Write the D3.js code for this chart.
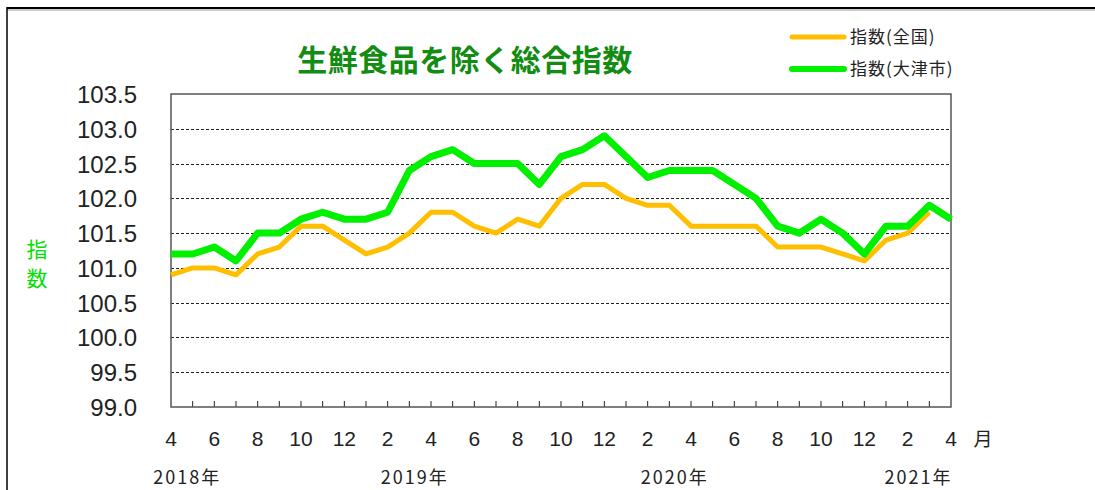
<!DOCTYPE html>
<html>
<head>
<meta charset="utf-8">
<script src="https://cdn.jsdelivr.net/npm/d3@7/dist/d3.min.js"></script>
<style>
  body { margin: 0; background: #fff; }
  svg { display: block; }
</style>
</head>
<body>
<svg id="chart"></svg>
<script>
// data, Apr 2018 .. Apr 2021 (monthly)
var monthTicks = ["4", "6", "8", "10", "12", "2", "4", "6", "8", "10", "12", "2", "4", "6", "8", "10", "12", "2", "4"];
var yearLabels = ["2018年", "2019年", "2020年", "2021年"];
var yTicks = [99.0, 99.5, 100.0, 100.5, 101.0, 101.5, 102.0, 102.5, 103.0, 103.5];

var national = [100.9, 101.0, 101.0, 100.9, 101.2, 101.3, 101.6, 101.6, 101.4, 101.2, 101.3, 101.5,
                101.8, 101.8, 101.6, 101.5, 101.7, 101.6, 102.0, 102.2, 102.2, 102.0, 101.9, 101.9,
                101.6, 101.6, 101.6, 101.6, 101.3, 101.3, 101.3, 101.2, 101.1, 101.4, 101.5, 101.8];
var otsu = [101.2, 101.2, 101.3, 101.1, 101.5, 101.5, 101.7, 101.8, 101.7, 101.7, 101.8, 102.4,
            102.6, 102.7, 102.5, 102.5, 102.5, 102.2, 102.6, 102.7, 102.9, 102.6, 102.3, 102.4,
            102.4, 102.4, 102.2, 102.0, 101.6, 101.5, 101.7, 101.5, 101.2, 101.6, 101.6, 101.9, 101.7];

var W = 1095, H = 490;
var PLOT = {left: 171, right: 951, top: 94, bottom: 407};
var NUM_FONT = "'Liberation Sans', Arial, sans-serif";
var JP_FONT = "'Noto Sans CJK JP', sans-serif";

var svg = d3.select("#chart").attr("width", W).attr("height", H);

var x = d3.scaleLinear().domain([0, 36]).range([PLOT.left, PLOT.right]);
var y = d3.scaleLinear().domain([99, 103.5]).range([PLOT.bottom, PLOT.top]);

// outer frame (top and left only visible)
svg.append("line").attr("x1", 7).attr("x2", W).attr("y1", 10).attr("y2", 10)
    .attr("stroke", "#999").attr("stroke-width", 1);
svg.append("line").attr("x1", 7).attr("x2", W).attr("y1", 8).attr("y2", 8)
    .attr("stroke", "#000").attr("stroke-width", 2);
svg.append("line").attr("x1", 7).attr("x2", 7).attr("y1", 7).attr("y2", H)
    .attr("stroke", "#000").attr("stroke-width", 1.5);

// title
svg.append("text")
    .attr("x", 465).attr("y", 71)
    .attr("text-anchor", "middle")
    .attr("font-family", JP_FONT)
    .attr("font-weight", "bold")
    .attr("font-size", 30)
    .attr("letter-spacing", 0.5)
    .attr("fill", "#128c12")
    .text("生鮮食品を除く総合指数");

// gridlines
svg.append("g").selectAll("line")
    .data(yTicks.slice(1, -1))
    .enter().append("line")
    .attr("x1", PLOT.left).attr("x2", PLOT.right)
    .attr("y1", function(d) { return Math.round(y(d)) + 0.5; })
    .attr("y2", function(d) { return Math.round(y(d)) + 0.5; })
    .attr("stroke", "#222")
    .attr("stroke-width", 1)
    .attr("stroke-dasharray", "3,2");

// month ticks along the bottom, inside plot
svg.append("g").selectAll("line")
    .data(d3.range(1, 36))
    .enter().append("line")
    .attr("x1", function(d) { return x(d); })
    .attr("x2", function(d) { return x(d); })
    .attr("y1", PLOT.bottom).attr("y2", PLOT.bottom - 6)
    .attr("stroke", "#222").attr("stroke-width", 1);

// plot frame
svg.append("rect")
    .attr("x", PLOT.left).attr("y", PLOT.top)
    .attr("width", PLOT.right - PLOT.left).attr("height", PLOT.bottom - PLOT.top)
    .attr("fill", "none").attr("stroke", "#555").attr("stroke-width", 1.5);

// y tick labels
svg.append("g").selectAll("text")
    .data(yTicks)
    .enter().append("text")
    .attr("x", 137)
    .attr("y", function(d) { return y(d) + 9; })
    .attr("text-anchor", "end")
    .attr("font-family", NUM_FONT)
    .attr("font-size", 24)
    .attr("fill", "#222")
    .text(function(d) { return d.toFixed(1); });

// y axis title
var yTitle = svg.append("text")
    .attr("font-family", JP_FONT)
    .attr("font-size", 21)
    .attr("fill", "#00e000")
    .attr("text-anchor", "middle");
yTitle.append("tspan").attr("x", 37).attr("y", 257).text("指");
yTitle.append("tspan").attr("x", 37).attr("y", 286).text("数");

// x tick labels (every 2 months)
svg.append("g").selectAll("text")
    .data(monthTicks)
    .enter().append("text")
    .attr("x", function(d, i) { return x(i * 2); })
    .attr("y", 446)
    .attr("text-anchor", "middle")
    .attr("font-family", NUM_FONT)
    .attr("font-size", 21)
    .attr("fill", "#222")
    .text(function(d) { return d; });

svg.append("text")
    .attr("x", x(36) + 32).attr("y", 446)
    .attr("text-anchor", "middle")
    .attr("font-family", JP_FONT)
    .attr("font-size", 19)
    .attr("fill", "#222")
    .text("月");

// year labels, placed relative to month index
var yearPos = [0.75, 11.25, 23.25, 34.5];
svg.append("g").selectAll("text")
    .data(yearLabels)
    .enter().append("text")
    .attr("x", function(d, i) { return x(yearPos[i]); })
    .attr("y", 484)
    .attr("text-anchor", "middle")
    .attr("font-family", JP_FONT)
    .attr("font-size", 18)
    .attr("letter-spacing", 2)
    .attr("fill", "#222")
    .text(function(d) { return d; });

// lines
var line = d3.line()
    .x(function(d, i) { return x(i); })
    .y(function(d) { return y(d); });

svg.append("path")
    .datum(national)
    .attr("fill", "none")
    .attr("stroke", "#ffbf00")
    .attr("stroke-width", 5)
    .attr("stroke-linejoin", "round")
    .attr("d", line);

svg.append("path")
    .datum(otsu)
    .attr("fill", "none")
    .attr("stroke", "#00f000")
    .attr("stroke-width", 7)
    .attr("stroke-linejoin", "round")
    .attr("d", line);

// legend
var legend = [
    {label: "指数(全国)", color: "#ffbf00", width: 5, y: 37},
    {label: "指数(大津市)", color: "#00f000", width: 6, y: 69}
];
var lg = svg.append("g").selectAll("g").data(legend).enter().append("g");
lg.append("line")
    .attr("x1", 792).attr("x2", 844)
    .attr("y1", function(d) { return d.y; }).attr("y2", function(d) { return d.y; })
    .attr("stroke", function(d) { return d.color; })
    .attr("stroke-width", function(d) { return d.width; })
    .attr("stroke-linecap", "round");
lg.append("text")
    .attr("x", 850)
    .attr("y", function(d) { return d.y + 6; })
    .attr("font-family", JP_FONT)
    .attr("font-size", 17)
    .attr("letter-spacing", 1)
    .attr("fill", "#222")
    .text(function(d) { return d.label; });
</script>
</body>
</html>
